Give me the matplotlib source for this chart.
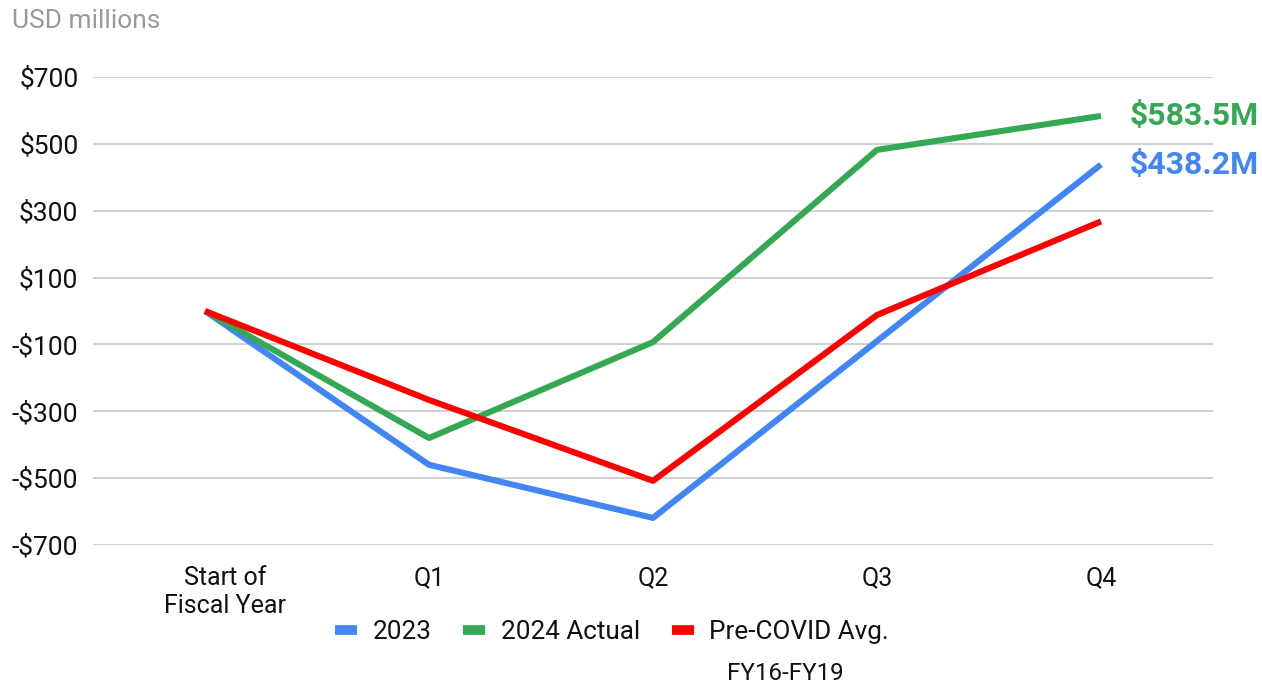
import matplotlib
matplotlib.use("Agg")
import matplotlib.pyplot as plt
import matplotlib.transforms as mtransforms
from matplotlib.lines import Line2D

# data (USD millions)
categories = ["Start of\nFiscal Year", "Q1", "Q2", "Q3", "Q4"]
series_2023 = [0, -460, -619, -90, 438.2]
series_2024 = [0, -380, -93, 482, 583.5]
series_precovid = [0, -266, -508, -12, 268]
yticks = [-700, -500, -300, -100, 100, 300, 500, 700]

blue = "#4285F4"
green = "#34A853"
red = "#FF0000"

plt.rcParams["font.family"] = ["Roboto", "DejaVu Sans"]

fig = plt.figure(figsize=(12.62, 6.83), dpi=100)
ax = fig.add_axes([93/1262, 1-545/683, 1120/1262, 468/683])

x = range(len(categories))
ax.plot(x, series_2023, color=blue, lw=4.4, solid_capstyle="butt", zorder=3)
ax.plot(x, series_2024, color=green, lw=4.4, solid_capstyle="butt", zorder=4)
ax.plot(x, series_precovid, color=red, lw=4.4, solid_capstyle="butt", zorder=5)

ax.set_xlim(-0.5, len(categories) - 0.5)
ax.set_ylim(-700, 700)
ax.set_yticks(yticks)
ax.set_yticklabels([f"${v}" if v >= 0 else f"-${-v}" for v in yticks])
ax.set_xticks(list(x))
ax.set_xticklabels(categories, linespacing=1.2)
ax.tick_params(axis="both", length=0, colors="#111111")
ax.tick_params(axis="y", pad=10.5, labelsize=19)
ax.tick_params(axis="x", pad=15, labelsize=18)
ax.grid(axis="y", color="#cccccc", lw=1.3)
ax.set_axisbelow(True)
for s in ax.spines.values():
    s.set_visible(False)

# the wrapped first label sits a little right of its tick in the reference
first = ax.get_xticklabels()[0]
first.set_transform(first.get_transform() +
                    mtransforms.ScaledTranslation(20/100, 0, fig.dpi_scale_trans))

# end-of-line labels
ax.annotate(f"${series_2024[-1]}M", xy=(4, series_2024[-1]), xytext=(29, 0),
            textcoords="offset pixels", color=green, fontsize=23,
            fontweight="bold", va="center", ha="left", annotation_clip=False)
ax.annotate(f"${series_2023[-1]}M", xy=(4, series_2023[-1]), xytext=(29, 0),
            textcoords="offset pixels", color=blue, fontsize=23,
            fontweight="bold", va="center", ha="left", annotation_clip=False)

fig.text(12/1262, 1-21/683, "USD millions", color="#9a9a9a", fontsize=19,
         ha="left", va="center")

handles = [Line2D([], [], color=c, lw=7, solid_capstyle="butt") for c in (blue, green, red)]
fig.legend(handles, ["2023", "2024 Actual", "Pre-COVID Avg."], loc="center",
           bbox_to_anchor=(612/1262, 1-632/683), ncol=3, frameon=False,
           fontsize=18.8, handlelength=0.85, handletextpad=0.6,
           columnspacing=1.2, labelcolor="#111111")
fig.text(785/1262, 1-673/683, "FY16-FY19", fontsize=17.4, ha="center",
         va="center", color="#111111")

fig.savefig("out.png", dpi=100)
